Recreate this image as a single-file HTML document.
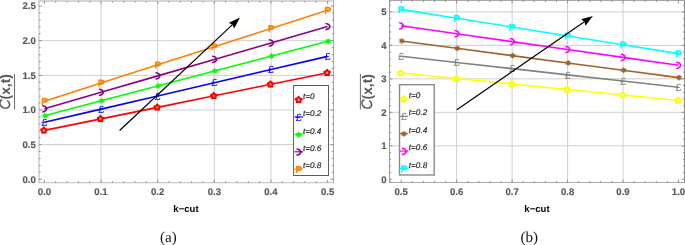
<!DOCTYPE html>
<html><head><meta charset="utf-8"><title>plots</title>
<style>html,body{margin:0;padding:0;background:#fff}svg{display:block;text-rendering:geometricPrecision;will-change:transform;opacity:0.999}</style></head>
<body>
<svg width="685" height="245" viewBox="0 0 685 245">
<rect width="685" height="245" fill="#fff"/>
<line x1="101.04" y1="1" x2="101.04" y2="182.6" stroke="#cfcfcf" stroke-width="1"/>
<line x1="157.68" y1="1" x2="157.68" y2="182.6" stroke="#cfcfcf" stroke-width="1"/>
<line x1="214.32" y1="1" x2="214.32" y2="182.6" stroke="#cfcfcf" stroke-width="1"/>
<line x1="270.96" y1="1" x2="270.96" y2="182.6" stroke="#cfcfcf" stroke-width="1"/>
<line x1="39" y1="144.65" x2="333.5" y2="144.65" stroke="#cfcfcf" stroke-width="1"/>
<line x1="39" y1="110" x2="333.5" y2="110" stroke="#cfcfcf" stroke-width="1"/>
<line x1="39" y1="75.35" x2="333.5" y2="75.35" stroke="#cfcfcf" stroke-width="1"/>
<line x1="39" y1="40.7" x2="333.5" y2="40.7" stroke="#cfcfcf" stroke-width="1"/>
<line x1="38.3" y1="1" x2="334" y2="1" stroke="#c8c8c8" stroke-width="1.4"/>
<line x1="38.3" y1="182.6" x2="334" y2="182.6" stroke="#c8c8c8" stroke-width="1.4"/>
<line x1="39" y1="1" x2="39" y2="182.6" stroke="#c8c8c8" stroke-width="1.4"/>
<line x1="333.5" y1="1" x2="333.5" y2="182.6" stroke="#a8a8a8" stroke-width="1.0"/>
<path d="M44.4 182.6v-2.8M44.4 1v2.8M55.73 182.6v-1.6M55.73 1v1.6M67.06 182.6v-1.6M67.06 1v1.6M78.38 182.6v-1.6M78.38 1v1.6M89.71 182.6v-1.6M89.71 1v1.6M101.04 182.6v-2.8M101.04 1v2.8M112.37 182.6v-1.6M112.37 1v1.6M123.7 182.6v-1.6M123.7 1v1.6M135.02 182.6v-1.6M135.02 1v1.6M146.35 182.6v-1.6M146.35 1v1.6M157.68 182.6v-2.8M157.68 1v2.8M169.01 182.6v-1.6M169.01 1v1.6M180.34 182.6v-1.6M180.34 1v1.6M191.66 182.6v-1.6M191.66 1v1.6M202.99 182.6v-1.6M202.99 1v1.6M214.32 182.6v-2.8M214.32 1v2.8M225.65 182.6v-1.6M225.65 1v1.6M236.98 182.6v-1.6M236.98 1v1.6M248.3 182.6v-1.6M248.3 1v1.6M259.63 182.6v-1.6M259.63 1v1.6M270.96 182.6v-2.8M270.96 1v2.8M282.29 182.6v-1.6M282.29 1v1.6M293.62 182.6v-1.6M293.62 1v1.6M304.94 182.6v-1.6M304.94 1v1.6M316.27 182.6v-1.6M316.27 1v1.6M327.6 182.6v-2.8M327.6 1v2.8M39 179.3h2.8M333.5 179.3h-2.8M39 172.37h1.6M333.5 172.37h-1.6M39 165.44h1.6M333.5 165.44h-1.6M39 158.51h1.6M333.5 158.51h-1.6M39 151.58h1.6M333.5 151.58h-1.6M39 144.65h2.8M333.5 144.65h-2.8M39 137.72h1.6M333.5 137.72h-1.6M39 130.79h1.6M333.5 130.79h-1.6M39 123.86h1.6M333.5 123.86h-1.6M39 116.93h1.6M333.5 116.93h-1.6M39 110h2.8M333.5 110h-2.8M39 103.07h1.6M333.5 103.07h-1.6M39 96.14h1.6M333.5 96.14h-1.6M39 89.21h1.6M333.5 89.21h-1.6M39 82.28h1.6M333.5 82.28h-1.6M39 75.35h2.8M333.5 75.35h-2.8M39 68.42h1.6M333.5 68.42h-1.6M39 61.49h1.6M333.5 61.49h-1.6M39 54.56h1.6M333.5 54.56h-1.6M39 47.63h1.6M333.5 47.63h-1.6M39 40.7h2.8M333.5 40.7h-2.8M39 33.77h1.6M333.5 33.77h-1.6M39 26.84h1.6M333.5 26.84h-1.6M39 19.91h1.6M333.5 19.91h-1.6M39 12.98h1.6M333.5 12.98h-1.6M39 6.05h2.8M333.5 6.05h-2.8" stroke="#868686" stroke-width="0.9" fill="none"/>
<text x="44.4" y="195" font-family="Liberation Sans, Arial, Helvetica, sans-serif" font-size="9.6" font-weight="bold" fill="#585858" stroke="#585858" stroke-width="0.15" text-anchor="middle">0.0</text>
<text x="101.04" y="195" font-family="Liberation Sans, Arial, Helvetica, sans-serif" font-size="9.6" font-weight="bold" fill="#585858" stroke="#585858" stroke-width="0.15" text-anchor="middle">0.1</text>
<text x="157.68" y="195" font-family="Liberation Sans, Arial, Helvetica, sans-serif" font-size="9.6" font-weight="bold" fill="#585858" stroke="#585858" stroke-width="0.15" text-anchor="middle">0.2</text>
<text x="214.32" y="195" font-family="Liberation Sans, Arial, Helvetica, sans-serif" font-size="9.6" font-weight="bold" fill="#585858" stroke="#585858" stroke-width="0.15" text-anchor="middle">0.3</text>
<text x="270.96" y="195" font-family="Liberation Sans, Arial, Helvetica, sans-serif" font-size="9.6" font-weight="bold" fill="#585858" stroke="#585858" stroke-width="0.15" text-anchor="middle">0.4</text>
<text x="327.6" y="195" font-family="Liberation Sans, Arial, Helvetica, sans-serif" font-size="9.6" font-weight="bold" fill="#585858" stroke="#585858" stroke-width="0.15" text-anchor="middle">0.5</text>
<text x="35.8" y="182.7" font-family="Liberation Sans, Arial, Helvetica, sans-serif" font-size="9.6" font-weight="bold" fill="#585858" stroke="#585858" stroke-width="0.15" text-anchor="end">0.0</text>
<text x="35.8" y="148.05" font-family="Liberation Sans, Arial, Helvetica, sans-serif" font-size="9.6" font-weight="bold" fill="#585858" stroke="#585858" stroke-width="0.15" text-anchor="end">0.5</text>
<text x="35.8" y="113.4" font-family="Liberation Sans, Arial, Helvetica, sans-serif" font-size="9.6" font-weight="bold" fill="#585858" stroke="#585858" stroke-width="0.15" text-anchor="end">1.0</text>
<text x="35.8" y="78.75" font-family="Liberation Sans, Arial, Helvetica, sans-serif" font-size="9.6" font-weight="bold" fill="#585858" stroke="#585858" stroke-width="0.15" text-anchor="end">1.5</text>
<text x="35.8" y="44.1" font-family="Liberation Sans, Arial, Helvetica, sans-serif" font-size="9.6" font-weight="bold" fill="#585858" stroke="#585858" stroke-width="0.15" text-anchor="end">2.0</text>
<text x="35.8" y="9.45" font-family="Liberation Sans, Arial, Helvetica, sans-serif" font-size="9.6" font-weight="bold" fill="#585858" stroke="#585858" stroke-width="0.15" text-anchor="end">2.5</text>
<polyline points="44.4,130.4 101.04,118.88 157.68,107.36 214.32,95.84 270.96,84.32 327.6,72.8" fill="none" stroke="#ff0000" stroke-width="1.6"/>
<path transform="translate(43.9 130.4)" d="M0 -3 L1.12 -1.54 L2.85 -0.93 L1.81 0.59 L1.76 2.43 L0 1.9 L-1.76 2.43 L-1.81 0.59 L-2.85 -0.93 L-1.12 -1.54Z" fill="#fff" fill-opacity="0.6" stroke="#ff0000" stroke-width="2.0" stroke-linejoin="round"/>
<path transform="translate(100.54 118.88)" d="M0 -3 L1.12 -1.54 L2.85 -0.93 L1.81 0.59 L1.76 2.43 L0 1.9 L-1.76 2.43 L-1.81 0.59 L-2.85 -0.93 L-1.12 -1.54Z" fill="#fff" fill-opacity="0.6" stroke="#ff0000" stroke-width="2.0" stroke-linejoin="round"/>
<path transform="translate(157.18 107.36)" d="M0 -3 L1.12 -1.54 L2.85 -0.93 L1.81 0.59 L1.76 2.43 L0 1.9 L-1.76 2.43 L-1.81 0.59 L-2.85 -0.93 L-1.12 -1.54Z" fill="#fff" fill-opacity="0.6" stroke="#ff0000" stroke-width="2.0" stroke-linejoin="round"/>
<path transform="translate(213.82 95.84)" d="M0 -3 L1.12 -1.54 L2.85 -0.93 L1.81 0.59 L1.76 2.43 L0 1.9 L-1.76 2.43 L-1.81 0.59 L-2.85 -0.93 L-1.12 -1.54Z" fill="#fff" fill-opacity="0.6" stroke="#ff0000" stroke-width="2.0" stroke-linejoin="round"/>
<path transform="translate(270.46 84.32)" d="M0 -3 L1.12 -1.54 L2.85 -0.93 L1.81 0.59 L1.76 2.43 L0 1.9 L-1.76 2.43 L-1.81 0.59 L-2.85 -0.93 L-1.12 -1.54Z" fill="#fff" fill-opacity="0.6" stroke="#ff0000" stroke-width="2.0" stroke-linejoin="round"/>
<path transform="translate(327.1 72.8)" d="M0 -3 L1.12 -1.54 L2.85 -0.93 L1.81 0.59 L1.76 2.43 L0 1.9 L-1.76 2.43 L-1.81 0.59 L-2.85 -0.93 L-1.12 -1.54Z" fill="#fff" fill-opacity="0.6" stroke="#ff0000" stroke-width="2.0" stroke-linejoin="round"/>
<polyline points="44.4,122.3 101.04,109.12 157.68,95.94 214.32,82.76 270.96,69.58 327.6,56.4" fill="none" stroke="#0000ff" stroke-width="1.6"/>
<text x="44.4" y="126" font-family="Liberation Sans, Arial, Helvetica, sans-serif" font-size="10.4" text-anchor="middle" fill="#0000ff" stroke="#0000ff" stroke-width="0.1">£</text>
<text x="101.04" y="112.82" font-family="Liberation Sans, Arial, Helvetica, sans-serif" font-size="10.4" text-anchor="middle" fill="#0000ff" stroke="#0000ff" stroke-width="0.1">£</text>
<text x="157.68" y="99.64" font-family="Liberation Sans, Arial, Helvetica, sans-serif" font-size="10.4" text-anchor="middle" fill="#0000ff" stroke="#0000ff" stroke-width="0.1">£</text>
<text x="214.32" y="86.46" font-family="Liberation Sans, Arial, Helvetica, sans-serif" font-size="10.4" text-anchor="middle" fill="#0000ff" stroke="#0000ff" stroke-width="0.1">£</text>
<text x="270.96" y="73.28" font-family="Liberation Sans, Arial, Helvetica, sans-serif" font-size="10.4" text-anchor="middle" fill="#0000ff" stroke="#0000ff" stroke-width="0.1">£</text>
<text x="327.6" y="60.1" font-family="Liberation Sans, Arial, Helvetica, sans-serif" font-size="10.4" text-anchor="middle" fill="#0000ff" stroke="#0000ff" stroke-width="0.1">£</text>
<polyline points="44.4,115.7 101.04,100.82 157.68,85.94 214.32,71.06 270.96,56.18 327.6,41.3" fill="none" stroke="#00ff00" stroke-width="1.6"/>
<path transform="translate(45 115.7)" d="M0 2.9 L-0.9 1.56 L-2.51 1.45 L-1.8 0 L-2.51 -1.45 L-0.9 -1.56 L-0 -2.9 L0.9 -1.56 L2.51 -1.45 L1.8 -0 L2.51 1.45 L0.9 1.56Z" fill="#00ff00" stroke="#00ff00" stroke-width="0.4" stroke-linejoin="round"/>
<path transform="translate(101.64 100.82)" d="M0 2.9 L-0.9 1.56 L-2.51 1.45 L-1.8 0 L-2.51 -1.45 L-0.9 -1.56 L-0 -2.9 L0.9 -1.56 L2.51 -1.45 L1.8 -0 L2.51 1.45 L0.9 1.56Z" fill="#00ff00" stroke="#00ff00" stroke-width="0.4" stroke-linejoin="round"/>
<path transform="translate(158.28 85.94)" d="M0 2.9 L-0.9 1.56 L-2.51 1.45 L-1.8 0 L-2.51 -1.45 L-0.9 -1.56 L-0 -2.9 L0.9 -1.56 L2.51 -1.45 L1.8 -0 L2.51 1.45 L0.9 1.56Z" fill="#00ff00" stroke="#00ff00" stroke-width="0.4" stroke-linejoin="round"/>
<path transform="translate(214.92 71.06)" d="M0 2.9 L-0.9 1.56 L-2.51 1.45 L-1.8 0 L-2.51 -1.45 L-0.9 -1.56 L-0 -2.9 L0.9 -1.56 L2.51 -1.45 L1.8 -0 L2.51 1.45 L0.9 1.56Z" fill="#00ff00" stroke="#00ff00" stroke-width="0.4" stroke-linejoin="round"/>
<path transform="translate(271.56 56.18)" d="M0 2.9 L-0.9 1.56 L-2.51 1.45 L-1.8 0 L-2.51 -1.45 L-0.9 -1.56 L-0 -2.9 L0.9 -1.56 L2.51 -1.45 L1.8 -0 L2.51 1.45 L0.9 1.56Z" fill="#00ff00" stroke="#00ff00" stroke-width="0.4" stroke-linejoin="round"/>
<path transform="translate(328.2 41.3)" d="M0 2.9 L-0.9 1.56 L-2.51 1.45 L-1.8 0 L-2.51 -1.45 L-0.9 -1.56 L-0 -2.9 L0.9 -1.56 L2.51 -1.45 L1.8 -0 L2.51 1.45 L0.9 1.56Z" fill="#00ff00" stroke="#00ff00" stroke-width="0.4" stroke-linejoin="round"/>
<polyline points="44.4,108.8 101.04,92.34 157.68,75.88 214.32,59.42 270.96,42.96 327.6,26.5" fill="none" stroke="#8a008a" stroke-width="1.6"/>
<path transform="translate(44.4 108.8)" d="M-1.6 -3.1 C0.2 -2.9 1.9 -1.6 2.4 0 C1.9 1.6 0.2 2.9 -1.6 3.1" fill="none" stroke="#8a008a" stroke-width="1.5" stroke-linecap="round" stroke-linejoin="round"/>
<path transform="translate(101.04 92.34)" d="M-1.6 -3.1 C0.2 -2.9 1.9 -1.6 2.4 0 C1.9 1.6 0.2 2.9 -1.6 3.1" fill="none" stroke="#8a008a" stroke-width="1.5" stroke-linecap="round" stroke-linejoin="round"/>
<path transform="translate(157.68 75.88)" d="M-1.6 -3.1 C0.2 -2.9 1.9 -1.6 2.4 0 C1.9 1.6 0.2 2.9 -1.6 3.1" fill="none" stroke="#8a008a" stroke-width="1.5" stroke-linecap="round" stroke-linejoin="round"/>
<path transform="translate(214.32 59.42)" d="M-1.6 -3.1 C0.2 -2.9 1.9 -1.6 2.4 0 C1.9 1.6 0.2 2.9 -1.6 3.1" fill="none" stroke="#8a008a" stroke-width="1.5" stroke-linecap="round" stroke-linejoin="round"/>
<path transform="translate(270.96 42.96)" d="M-1.6 -3.1 C0.2 -2.9 1.9 -1.6 2.4 0 C1.9 1.6 0.2 2.9 -1.6 3.1" fill="none" stroke="#8a008a" stroke-width="1.5" stroke-linecap="round" stroke-linejoin="round"/>
<path transform="translate(327.6 26.5)" d="M-1.6 -3.1 C0.2 -2.9 1.9 -1.6 2.4 0 C1.9 1.6 0.2 2.9 -1.6 3.1" fill="none" stroke="#8a008a" stroke-width="1.5" stroke-linecap="round" stroke-linejoin="round"/>
<polyline points="44.4,101.2 101.04,83.02 157.68,64.84 214.32,46.66 270.96,28.48 327.6,10.3" fill="none" stroke="#ff8000" stroke-width="1.6"/>
<path transform="translate(44.4 101.2)" d="M-1.9 3.7 V-2.7 M-2.6 -2.7 H0.6 C3.4 -2.7 3.4 0.9 0.6 0.9 H-1.9" fill="#ff8000" fill-opacity="0.55" stroke="#ff8000" stroke-width="1.5" stroke-linejoin="round"/>
<path transform="translate(101.04 83.02)" d="M-1.9 3.7 V-2.7 M-2.6 -2.7 H0.6 C3.4 -2.7 3.4 0.9 0.6 0.9 H-1.9" fill="#ff8000" fill-opacity="0.55" stroke="#ff8000" stroke-width="1.5" stroke-linejoin="round"/>
<path transform="translate(157.68 64.84)" d="M-1.9 3.7 V-2.7 M-2.6 -2.7 H0.6 C3.4 -2.7 3.4 0.9 0.6 0.9 H-1.9" fill="#ff8000" fill-opacity="0.55" stroke="#ff8000" stroke-width="1.5" stroke-linejoin="round"/>
<path transform="translate(214.32 46.66)" d="M-1.9 3.7 V-2.7 M-2.6 -2.7 H0.6 C3.4 -2.7 3.4 0.9 0.6 0.9 H-1.9" fill="#ff8000" fill-opacity="0.55" stroke="#ff8000" stroke-width="1.5" stroke-linejoin="round"/>
<path transform="translate(270.96 28.48)" d="M-1.9 3.7 V-2.7 M-2.6 -2.7 H0.6 C3.4 -2.7 3.4 0.9 0.6 0.9 H-1.9" fill="#ff8000" fill-opacity="0.55" stroke="#ff8000" stroke-width="1.5" stroke-linejoin="round"/>
<path transform="translate(327.6 10.3)" d="M-1.9 3.7 V-2.7 M-2.6 -2.7 H0.6 C3.4 -2.7 3.4 0.9 0.6 0.9 H-1.9" fill="#ff8000" fill-opacity="0.55" stroke="#ff8000" stroke-width="1.5" stroke-linejoin="round"/>
<line x1="119.6" y1="130.5" x2="232.49" y2="24.65" stroke="#000" stroke-width="1.2"/>
<path d="M240 17.6 L234.21 28.38 L232.49 24.65 L228.87 22.69Z" fill="#000"/>
<rect x="293.6" y="85.5" width="34.9" height="90" fill="#fff" stroke="#5c5c5c" stroke-width="1.0"/>
<line x1="294.6" y1="99.6" x2="302.9" y2="99.6" stroke="#ff0000" stroke-width="1.2"/>
<path transform="translate(298.6 99.8)" d="M0 -3 L1.12 -1.54 L2.85 -0.93 L1.81 0.59 L1.76 2.43 L0 1.9 L-1.76 2.43 L-1.81 0.59 L-2.85 -0.93 L-1.12 -1.54Z" fill="#fff" fill-opacity="0.6" stroke="#ff0000" stroke-width="2.0" stroke-linejoin="round"/>
<text x="302.9" y="98.7" font-family="Liberation Sans, Arial, Helvetica, sans-serif" font-size="8.2" font-style="italic" fill="#111" stroke="#111" stroke-width="0.12">t=0</text>
<line x1="294.6" y1="117" x2="302.9" y2="117" stroke="#0000ff" stroke-width="1.2"/>
<text x="298.6" y="120.9" font-family="Liberation Sans, Arial, Helvetica, sans-serif" font-size="10.4" text-anchor="middle" fill="#0000ff" stroke="#0000ff" stroke-width="0.1">£</text>
<text x="302.9" y="116.1" font-family="Liberation Sans, Arial, Helvetica, sans-serif" font-size="8.2" font-style="italic" fill="#111" stroke="#111" stroke-width="0.12">t=0.2</text>
<line x1="294.6" y1="134.4" x2="302.9" y2="134.4" stroke="#00ff00" stroke-width="1.2"/>
<path transform="translate(298.6 134.6)" d="M0 2.9 L-0.9 1.56 L-2.51 1.45 L-1.8 0 L-2.51 -1.45 L-0.9 -1.56 L-0 -2.9 L0.9 -1.56 L2.51 -1.45 L1.8 -0 L2.51 1.45 L0.9 1.56Z" fill="#00ff00" stroke="#00ff00" stroke-width="0.4" stroke-linejoin="round"/>
<text x="302.9" y="133.5" font-family="Liberation Sans, Arial, Helvetica, sans-serif" font-size="8.2" font-style="italic" fill="#111" stroke="#111" stroke-width="0.12">t=0.4</text>
<line x1="294.6" y1="151.8" x2="302.9" y2="151.8" stroke="#8a008a" stroke-width="1.2"/>
<path transform="translate(298.6 152)" d="M-1.6 -3.1 C0.2 -2.9 1.9 -1.6 2.4 0 C1.9 1.6 0.2 2.9 -1.6 3.1" fill="none" stroke="#8a008a" stroke-width="1.5" stroke-linecap="round" stroke-linejoin="round"/>
<text x="302.9" y="150.9" font-family="Liberation Sans, Arial, Helvetica, sans-serif" font-size="8.2" font-style="italic" fill="#111" stroke="#111" stroke-width="0.12">t=0.6</text>
<line x1="294.6" y1="169.2" x2="302.9" y2="169.2" stroke="#ff8000" stroke-width="1.2"/>
<path transform="translate(298.6 169.4)" d="M-1.9 3.7 V-2.7 M-2.6 -2.7 H0.6 C3.4 -2.7 3.4 0.9 0.6 0.9 H-1.9" fill="#ff8000" fill-opacity="0.55" stroke="#ff8000" stroke-width="1.5" stroke-linejoin="round"/>
<text x="302.9" y="168.3" font-family="Liberation Sans, Arial, Helvetica, sans-serif" font-size="8.2" font-style="italic" fill="#111" stroke="#111" stroke-width="0.12">t=0.8</text>
<text transform="translate(10.3 109.5) rotate(-90) scale(0.93 1)" font-family="Liberation Sans, Arial, Helvetica, sans-serif" font-size="15.2" font-style="italic" fill="#585858" stroke="#585858" stroke-width="0.3">C</text>
<text transform="translate(10.3 99.4) rotate(-90)" font-family="Liberation Sans, Arial, Helvetica, sans-serif" font-size="13.8" font-weight="bold" fill="#585858">(x,t)</text>
<line x1="14.55" y1="73.9" x2="14.55" y2="109.4" stroke="#585858" stroke-width="0.9"/>
<text x="186" y="211.8" font-family="Liberation Sans, Arial, Helvetica, sans-serif" font-size="9.6" font-weight="bold" fill="#000" text-anchor="middle">k−cut</text>
<text x="168.4" y="242.1" font-family="Liberation Serif, Times New Roman, serif" font-size="15" fill="#111" text-anchor="middle">(a)</text>
<line x1="456.66" y1="0.5" x2="456.66" y2="182.5" stroke="#cfcfcf" stroke-width="1"/>
<line x1="512.12" y1="0.5" x2="512.12" y2="182.5" stroke="#cfcfcf" stroke-width="1"/>
<line x1="567.58" y1="0.5" x2="567.58" y2="182.5" stroke="#cfcfcf" stroke-width="1"/>
<line x1="623.04" y1="0.5" x2="623.04" y2="182.5" stroke="#cfcfcf" stroke-width="1"/>
<line x1="389.5" y1="145.82" x2="684.5" y2="145.82" stroke="#cfcfcf" stroke-width="1"/>
<line x1="389.5" y1="112.34" x2="684.5" y2="112.34" stroke="#cfcfcf" stroke-width="1"/>
<line x1="389.5" y1="78.86" x2="684.5" y2="78.86" stroke="#cfcfcf" stroke-width="1"/>
<line x1="389.5" y1="45.38" x2="684.5" y2="45.38" stroke="#cfcfcf" stroke-width="1"/>
<line x1="389.5" y1="11.9" x2="684.5" y2="11.9" stroke="#cfcfcf" stroke-width="1"/>
<line x1="389" y1="0.5" x2="685" y2="0.5" stroke="#a6a6a6" stroke-width="1.0"/>
<line x1="389" y1="182.5" x2="685" y2="182.5" stroke="#aaaaaa" stroke-width="1.1"/>
<line x1="389.5" y1="0.5" x2="389.5" y2="182.5" stroke="#9a9a9a" stroke-width="1.0"/>
<line x1="684.5" y1="0.5" x2="684.5" y2="182.5" stroke="#8c8c8c" stroke-width="1.0"/>
<path d="M390.11 182.5v-1.6M390.11 0.5v1.6M401.2 182.5v-2.8M401.2 0.5v2.8M412.29 182.5v-1.6M412.29 0.5v1.6M423.38 182.5v-1.6M423.38 0.5v1.6M434.48 182.5v-1.6M434.48 0.5v1.6M445.57 182.5v-1.6M445.57 0.5v1.6M456.66 182.5v-2.8M456.66 0.5v2.8M467.75 182.5v-1.6M467.75 0.5v1.6M478.84 182.5v-1.6M478.84 0.5v1.6M489.94 182.5v-1.6M489.94 0.5v1.6M501.03 182.5v-1.6M501.03 0.5v1.6M512.12 182.5v-2.8M512.12 0.5v2.8M523.21 182.5v-1.6M523.21 0.5v1.6M534.3 182.5v-1.6M534.3 0.5v1.6M545.4 182.5v-1.6M545.4 0.5v1.6M556.49 182.5v-1.6M556.49 0.5v1.6M567.58 182.5v-2.8M567.58 0.5v2.8M578.67 182.5v-1.6M578.67 0.5v1.6M589.76 182.5v-1.6M589.76 0.5v1.6M600.86 182.5v-1.6M600.86 0.5v1.6M611.95 182.5v-1.6M611.95 0.5v1.6M623.04 182.5v-2.8M623.04 0.5v2.8M634.13 182.5v-1.6M634.13 0.5v1.6M645.22 182.5v-1.6M645.22 0.5v1.6M656.32 182.5v-1.6M656.32 0.5v1.6M667.41 182.5v-1.6M667.41 0.5v1.6M678.5 182.5v-2.8M678.5 0.5v2.8M389.5 179.3h2.8M684.5 179.3h-2.8M389.5 172.6h1.6M684.5 172.6h-1.6M389.5 165.91h1.6M684.5 165.91h-1.6M389.5 159.21h1.6M684.5 159.21h-1.6M389.5 152.52h1.6M684.5 152.52h-1.6M389.5 145.82h2.8M684.5 145.82h-2.8M389.5 139.12h1.6M684.5 139.12h-1.6M389.5 132.43h1.6M684.5 132.43h-1.6M389.5 125.73h1.6M684.5 125.73h-1.6M389.5 119.04h1.6M684.5 119.04h-1.6M389.5 112.34h2.8M684.5 112.34h-2.8M389.5 105.64h1.6M684.5 105.64h-1.6M389.5 98.95h1.6M684.5 98.95h-1.6M389.5 92.25h1.6M684.5 92.25h-1.6M389.5 85.56h1.6M684.5 85.56h-1.6M389.5 78.86h2.8M684.5 78.86h-2.8M389.5 72.16h1.6M684.5 72.16h-1.6M389.5 65.47h1.6M684.5 65.47h-1.6M389.5 58.77h1.6M684.5 58.77h-1.6M389.5 52.08h1.6M684.5 52.08h-1.6M389.5 45.38h2.8M684.5 45.38h-2.8M389.5 38.68h1.6M684.5 38.68h-1.6M389.5 31.99h1.6M684.5 31.99h-1.6M389.5 25.29h1.6M684.5 25.29h-1.6M389.5 18.6h1.6M684.5 18.6h-1.6M389.5 11.9h2.8M684.5 11.9h-2.8M389.5 5.2h1.6M684.5 5.2h-1.6" stroke="#868686" stroke-width="0.9" fill="none"/>
<text x="401.2" y="195" font-family="Liberation Sans, Arial, Helvetica, sans-serif" font-size="9.6" font-weight="bold" fill="#585858" stroke="#585858" stroke-width="0.15" text-anchor="middle">0.5</text>
<text x="456.66" y="195" font-family="Liberation Sans, Arial, Helvetica, sans-serif" font-size="9.6" font-weight="bold" fill="#585858" stroke="#585858" stroke-width="0.15" text-anchor="middle">0.6</text>
<text x="512.12" y="195" font-family="Liberation Sans, Arial, Helvetica, sans-serif" font-size="9.6" font-weight="bold" fill="#585858" stroke="#585858" stroke-width="0.15" text-anchor="middle">0.7</text>
<text x="567.58" y="195" font-family="Liberation Sans, Arial, Helvetica, sans-serif" font-size="9.6" font-weight="bold" fill="#585858" stroke="#585858" stroke-width="0.15" text-anchor="middle">0.8</text>
<text x="623.04" y="195" font-family="Liberation Sans, Arial, Helvetica, sans-serif" font-size="9.6" font-weight="bold" fill="#585858" stroke="#585858" stroke-width="0.15" text-anchor="middle">0.9</text>
<text x="678.5" y="195" font-family="Liberation Sans, Arial, Helvetica, sans-serif" font-size="9.6" font-weight="bold" fill="#585858" stroke="#585858" stroke-width="0.15" text-anchor="middle">1.0</text>
<text x="386.6" y="182.7" font-family="Liberation Sans, Arial, Helvetica, sans-serif" font-size="9.6" font-weight="bold" fill="#585858" stroke="#585858" stroke-width="0.15" text-anchor="end">0</text>
<text x="386.6" y="149.22" font-family="Liberation Sans, Arial, Helvetica, sans-serif" font-size="9.6" font-weight="bold" fill="#585858" stroke="#585858" stroke-width="0.15" text-anchor="end">1</text>
<text x="386.6" y="115.74" font-family="Liberation Sans, Arial, Helvetica, sans-serif" font-size="9.6" font-weight="bold" fill="#585858" stroke="#585858" stroke-width="0.15" text-anchor="end">2</text>
<text x="386.6" y="82.26" font-family="Liberation Sans, Arial, Helvetica, sans-serif" font-size="9.6" font-weight="bold" fill="#585858" stroke="#585858" stroke-width="0.15" text-anchor="end">3</text>
<text x="386.6" y="48.78" font-family="Liberation Sans, Arial, Helvetica, sans-serif" font-size="9.6" font-weight="bold" fill="#585858" stroke="#585858" stroke-width="0.15" text-anchor="end">4</text>
<text x="386.6" y="15.3" font-family="Liberation Sans, Arial, Helvetica, sans-serif" font-size="9.6" font-weight="bold" fill="#585858" stroke="#585858" stroke-width="0.15" text-anchor="end">5</text>
<polyline points="401.2,73 456.66,78.5 512.12,84 567.58,89.5 623.04,95 678.5,100.5" fill="none" stroke="#ffff00" stroke-width="1.6"/>
<path transform="translate(400.7 73)" d="M0 -3 L1.12 -1.54 L2.85 -0.93 L1.81 0.59 L1.76 2.43 L0 1.9 L-1.76 2.43 L-1.81 0.59 L-2.85 -0.93 L-1.12 -1.54Z" fill="#fff" fill-opacity="0.6" stroke="#ffff00" stroke-width="2.0" stroke-linejoin="round"/>
<path transform="translate(456.16 78.5)" d="M0 -3 L1.12 -1.54 L2.85 -0.93 L1.81 0.59 L1.76 2.43 L0 1.9 L-1.76 2.43 L-1.81 0.59 L-2.85 -0.93 L-1.12 -1.54Z" fill="#fff" fill-opacity="0.6" stroke="#ffff00" stroke-width="2.0" stroke-linejoin="round"/>
<path transform="translate(511.62 84)" d="M0 -3 L1.12 -1.54 L2.85 -0.93 L1.81 0.59 L1.76 2.43 L0 1.9 L-1.76 2.43 L-1.81 0.59 L-2.85 -0.93 L-1.12 -1.54Z" fill="#fff" fill-opacity="0.6" stroke="#ffff00" stroke-width="2.0" stroke-linejoin="round"/>
<path transform="translate(567.08 89.5)" d="M0 -3 L1.12 -1.54 L2.85 -0.93 L1.81 0.59 L1.76 2.43 L0 1.9 L-1.76 2.43 L-1.81 0.59 L-2.85 -0.93 L-1.12 -1.54Z" fill="#fff" fill-opacity="0.6" stroke="#ffff00" stroke-width="2.0" stroke-linejoin="round"/>
<path transform="translate(622.54 95)" d="M0 -3 L1.12 -1.54 L2.85 -0.93 L1.81 0.59 L1.76 2.43 L0 1.9 L-1.76 2.43 L-1.81 0.59 L-2.85 -0.93 L-1.12 -1.54Z" fill="#fff" fill-opacity="0.6" stroke="#ffff00" stroke-width="2.0" stroke-linejoin="round"/>
<path transform="translate(678 100.5)" d="M0 -3 L1.12 -1.54 L2.85 -0.93 L1.81 0.59 L1.76 2.43 L0 1.9 L-1.76 2.43 L-1.81 0.59 L-2.85 -0.93 L-1.12 -1.54Z" fill="#fff" fill-opacity="0.6" stroke="#ffff00" stroke-width="2.0" stroke-linejoin="round"/>
<polyline points="401.2,56.3 456.66,62.48 512.12,68.66 567.58,74.84 623.04,81.02 678.5,87.2" fill="none" stroke="#808080" stroke-width="1.6"/>
<text x="401.2" y="60" font-family="Liberation Sans, Arial, Helvetica, sans-serif" font-size="10.4" text-anchor="middle" fill="#808080" stroke="#808080" stroke-width="0.1">£</text>
<text x="456.66" y="66.18" font-family="Liberation Sans, Arial, Helvetica, sans-serif" font-size="10.4" text-anchor="middle" fill="#808080" stroke="#808080" stroke-width="0.1">£</text>
<text x="512.12" y="72.36" font-family="Liberation Sans, Arial, Helvetica, sans-serif" font-size="10.4" text-anchor="middle" fill="#808080" stroke="#808080" stroke-width="0.1">£</text>
<text x="567.58" y="78.54" font-family="Liberation Sans, Arial, Helvetica, sans-serif" font-size="10.4" text-anchor="middle" fill="#808080" stroke="#808080" stroke-width="0.1">£</text>
<text x="623.04" y="84.72" font-family="Liberation Sans, Arial, Helvetica, sans-serif" font-size="10.4" text-anchor="middle" fill="#808080" stroke="#808080" stroke-width="0.1">£</text>
<text x="678.5" y="90.9" font-family="Liberation Sans, Arial, Helvetica, sans-serif" font-size="10.4" text-anchor="middle" fill="#808080" stroke="#808080" stroke-width="0.1">£</text>
<polyline points="401.2,41 456.66,48.32 512.12,55.64 567.58,62.96 623.04,70.28 678.5,77.6" fill="none" stroke="#a0622d" stroke-width="1.6"/>
<path transform="translate(401.8 41)" d="M0 2.9 L-0.9 1.56 L-2.51 1.45 L-1.8 0 L-2.51 -1.45 L-0.9 -1.56 L-0 -2.9 L0.9 -1.56 L2.51 -1.45 L1.8 -0 L2.51 1.45 L0.9 1.56Z" fill="#a0622d" stroke="#a0622d" stroke-width="0.4" stroke-linejoin="round"/>
<path transform="translate(457.26 48.32)" d="M0 2.9 L-0.9 1.56 L-2.51 1.45 L-1.8 0 L-2.51 -1.45 L-0.9 -1.56 L-0 -2.9 L0.9 -1.56 L2.51 -1.45 L1.8 -0 L2.51 1.45 L0.9 1.56Z" fill="#a0622d" stroke="#a0622d" stroke-width="0.4" stroke-linejoin="round"/>
<path transform="translate(512.72 55.64)" d="M0 2.9 L-0.9 1.56 L-2.51 1.45 L-1.8 0 L-2.51 -1.45 L-0.9 -1.56 L-0 -2.9 L0.9 -1.56 L2.51 -1.45 L1.8 -0 L2.51 1.45 L0.9 1.56Z" fill="#a0622d" stroke="#a0622d" stroke-width="0.4" stroke-linejoin="round"/>
<path transform="translate(568.18 62.96)" d="M0 2.9 L-0.9 1.56 L-2.51 1.45 L-1.8 0 L-2.51 -1.45 L-0.9 -1.56 L-0 -2.9 L0.9 -1.56 L2.51 -1.45 L1.8 -0 L2.51 1.45 L0.9 1.56Z" fill="#a0622d" stroke="#a0622d" stroke-width="0.4" stroke-linejoin="round"/>
<path transform="translate(623.64 70.28)" d="M0 2.9 L-0.9 1.56 L-2.51 1.45 L-1.8 0 L-2.51 -1.45 L-0.9 -1.56 L-0 -2.9 L0.9 -1.56 L2.51 -1.45 L1.8 -0 L2.51 1.45 L0.9 1.56Z" fill="#a0622d" stroke="#a0622d" stroke-width="0.4" stroke-linejoin="round"/>
<path transform="translate(679.1 77.6)" d="M0 2.9 L-0.9 1.56 L-2.51 1.45 L-1.8 0 L-2.51 -1.45 L-0.9 -1.56 L-0 -2.9 L0.9 -1.56 L2.51 -1.45 L1.8 -0 L2.51 1.45 L0.9 1.56Z" fill="#a0622d" stroke="#a0622d" stroke-width="0.4" stroke-linejoin="round"/>
<polyline points="401.2,25.8 456.66,33.7 512.12,41.6 567.58,49.5 623.04,57.4 678.5,65.3" fill="none" stroke="#ff00ff" stroke-width="1.6"/>
<path transform="translate(401.2 25.8)" d="M-1.6 -3.1 C0.2 -2.9 1.9 -1.6 2.4 0 C1.9 1.6 0.2 2.9 -1.6 3.1" fill="none" stroke="#ff00ff" stroke-width="1.5" stroke-linecap="round" stroke-linejoin="round"/>
<path transform="translate(456.66 33.7)" d="M-1.6 -3.1 C0.2 -2.9 1.9 -1.6 2.4 0 C1.9 1.6 0.2 2.9 -1.6 3.1" fill="none" stroke="#ff00ff" stroke-width="1.5" stroke-linecap="round" stroke-linejoin="round"/>
<path transform="translate(512.12 41.6)" d="M-1.6 -3.1 C0.2 -2.9 1.9 -1.6 2.4 0 C1.9 1.6 0.2 2.9 -1.6 3.1" fill="none" stroke="#ff00ff" stroke-width="1.5" stroke-linecap="round" stroke-linejoin="round"/>
<path transform="translate(567.58 49.5)" d="M-1.6 -3.1 C0.2 -2.9 1.9 -1.6 2.4 0 C1.9 1.6 0.2 2.9 -1.6 3.1" fill="none" stroke="#ff00ff" stroke-width="1.5" stroke-linecap="round" stroke-linejoin="round"/>
<path transform="translate(623.04 57.4)" d="M-1.6 -3.1 C0.2 -2.9 1.9 -1.6 2.4 0 C1.9 1.6 0.2 2.9 -1.6 3.1" fill="none" stroke="#ff00ff" stroke-width="1.5" stroke-linecap="round" stroke-linejoin="round"/>
<path transform="translate(678.5 65.3)" d="M-1.6 -3.1 C0.2 -2.9 1.9 -1.6 2.4 0 C1.9 1.6 0.2 2.9 -1.6 3.1" fill="none" stroke="#ff00ff" stroke-width="1.5" stroke-linecap="round" stroke-linejoin="round"/>
<polyline points="401.2,9.4 456.66,18.24 512.12,27.08 567.58,35.92 623.04,44.76 678.5,53.6" fill="none" stroke="#00ffff" stroke-width="1.6"/>
<path transform="translate(401.2 9.4)" d="M-1.9 3.7 V-2.7 M-2.6 -2.7 H0.6 C3.4 -2.7 3.4 0.9 0.6 0.9 H-1.9" fill="#00ffff" fill-opacity="0.55" stroke="#00ffff" stroke-width="1.5" stroke-linejoin="round"/>
<path transform="translate(456.66 18.24)" d="M-1.9 3.7 V-2.7 M-2.6 -2.7 H0.6 C3.4 -2.7 3.4 0.9 0.6 0.9 H-1.9" fill="#00ffff" fill-opacity="0.55" stroke="#00ffff" stroke-width="1.5" stroke-linejoin="round"/>
<path transform="translate(512.12 27.08)" d="M-1.9 3.7 V-2.7 M-2.6 -2.7 H0.6 C3.4 -2.7 3.4 0.9 0.6 0.9 H-1.9" fill="#00ffff" fill-opacity="0.55" stroke="#00ffff" stroke-width="1.5" stroke-linejoin="round"/>
<path transform="translate(567.58 35.92)" d="M-1.9 3.7 V-2.7 M-2.6 -2.7 H0.6 C3.4 -2.7 3.4 0.9 0.6 0.9 H-1.9" fill="#00ffff" fill-opacity="0.55" stroke="#00ffff" stroke-width="1.5" stroke-linejoin="round"/>
<path transform="translate(623.04 44.76)" d="M-1.9 3.7 V-2.7 M-2.6 -2.7 H0.6 C3.4 -2.7 3.4 0.9 0.6 0.9 H-1.9" fill="#00ffff" fill-opacity="0.55" stroke="#00ffff" stroke-width="1.5" stroke-linejoin="round"/>
<path transform="translate(678.5 53.6)" d="M-1.9 3.7 V-2.7 M-2.6 -2.7 H0.6 C3.4 -2.7 3.4 0.9 0.6 0.9 H-1.9" fill="#00ffff" fill-opacity="0.55" stroke="#00ffff" stroke-width="1.5" stroke-linejoin="round"/>
<line x1="456.8" y1="109.7" x2="584.42" y2="21.84" stroke="#000" stroke-width="1.2"/>
<path d="M592.9 16 L585.56 25.79 L584.42 21.84 L581.13 19.37Z" fill="#000"/>
<rect x="399.5" y="84.7" width="34.7" height="90.3" fill="#fff" stroke="#8c8c8c" stroke-width="1.4"/>
<line x1="399.9" y1="98.9" x2="408.2" y2="98.9" stroke="#ffff00" stroke-width="1.2"/>
<path transform="translate(403.9 99.1)" d="M0 -3 L1.12 -1.54 L2.85 -0.93 L1.81 0.59 L1.76 2.43 L0 1.9 L-1.76 2.43 L-1.81 0.59 L-2.85 -0.93 L-1.12 -1.54Z" fill="#fff" fill-opacity="0.6" stroke="#ffff00" stroke-width="2.0" stroke-linejoin="round"/>
<text x="408.8" y="98" font-family="Liberation Sans, Arial, Helvetica, sans-serif" font-size="8.2" font-style="italic" fill="#111" stroke="#111" stroke-width="0.12">t=0</text>
<line x1="399.9" y1="116.3" x2="408.2" y2="116.3" stroke="#808080" stroke-width="1.2"/>
<text x="403.9" y="120.2" font-family="Liberation Sans, Arial, Helvetica, sans-serif" font-size="10.4" text-anchor="middle" fill="#808080" stroke="#808080" stroke-width="0.1">£</text>
<text x="408.8" y="115.4" font-family="Liberation Sans, Arial, Helvetica, sans-serif" font-size="8.2" font-style="italic" fill="#111" stroke="#111" stroke-width="0.12">t=0.2</text>
<line x1="399.9" y1="133.7" x2="408.2" y2="133.7" stroke="#a0622d" stroke-width="1.2"/>
<path transform="translate(403.9 133.9)" d="M0 2.9 L-0.9 1.56 L-2.51 1.45 L-1.8 0 L-2.51 -1.45 L-0.9 -1.56 L-0 -2.9 L0.9 -1.56 L2.51 -1.45 L1.8 -0 L2.51 1.45 L0.9 1.56Z" fill="#a0622d" stroke="#a0622d" stroke-width="0.4" stroke-linejoin="round"/>
<text x="408.8" y="132.8" font-family="Liberation Sans, Arial, Helvetica, sans-serif" font-size="8.2" font-style="italic" fill="#111" stroke="#111" stroke-width="0.12">t=0.4</text>
<line x1="399.9" y1="151.1" x2="408.2" y2="151.1" stroke="#ff00ff" stroke-width="1.2"/>
<path transform="translate(403.9 151.3)" d="M-1.6 -3.1 C0.2 -2.9 1.9 -1.6 2.4 0 C1.9 1.6 0.2 2.9 -1.6 3.1" fill="none" stroke="#ff00ff" stroke-width="1.5" stroke-linecap="round" stroke-linejoin="round"/>
<text x="408.8" y="150.2" font-family="Liberation Sans, Arial, Helvetica, sans-serif" font-size="8.2" font-style="italic" fill="#111" stroke="#111" stroke-width="0.12">t=0.6</text>
<line x1="399.9" y1="168.5" x2="408.2" y2="168.5" stroke="#00ffff" stroke-width="1.2"/>
<path transform="translate(403.9 168.7)" d="M-1.9 3.7 V-2.7 M-2.6 -2.7 H0.6 C3.4 -2.7 3.4 0.9 0.6 0.9 H-1.9" fill="#00ffff" fill-opacity="0.55" stroke="#00ffff" stroke-width="1.5" stroke-linejoin="round"/>
<text x="408.8" y="167.6" font-family="Liberation Sans, Arial, Helvetica, sans-serif" font-size="8.2" font-style="italic" fill="#111" stroke="#111" stroke-width="0.12">t=0.8</text>
<text transform="translate(372.1 109.5) rotate(-90) scale(0.93 1)" font-family="Liberation Sans, Arial, Helvetica, sans-serif" font-size="15.2" font-style="italic" fill="#585858" stroke="#585858" stroke-width="0.3">C</text>
<text transform="translate(372.1 99.4) rotate(-90)" font-family="Liberation Sans, Arial, Helvetica, sans-serif" font-size="13.8" font-weight="bold" fill="#585858">(x,t)</text>
<line x1="360.4" y1="73.8" x2="360.4" y2="109.3" stroke="#585858" stroke-width="0.9"/>
<text x="537" y="211.8" font-family="Liberation Sans, Arial, Helvetica, sans-serif" font-size="9.6" font-weight="bold" fill="#000" text-anchor="middle">k−cut</text>
<text x="529.2" y="242.1" font-family="Liberation Serif, Times New Roman, serif" font-size="15" fill="#111" text-anchor="middle">(b)</text>
</svg>
</body></html>
